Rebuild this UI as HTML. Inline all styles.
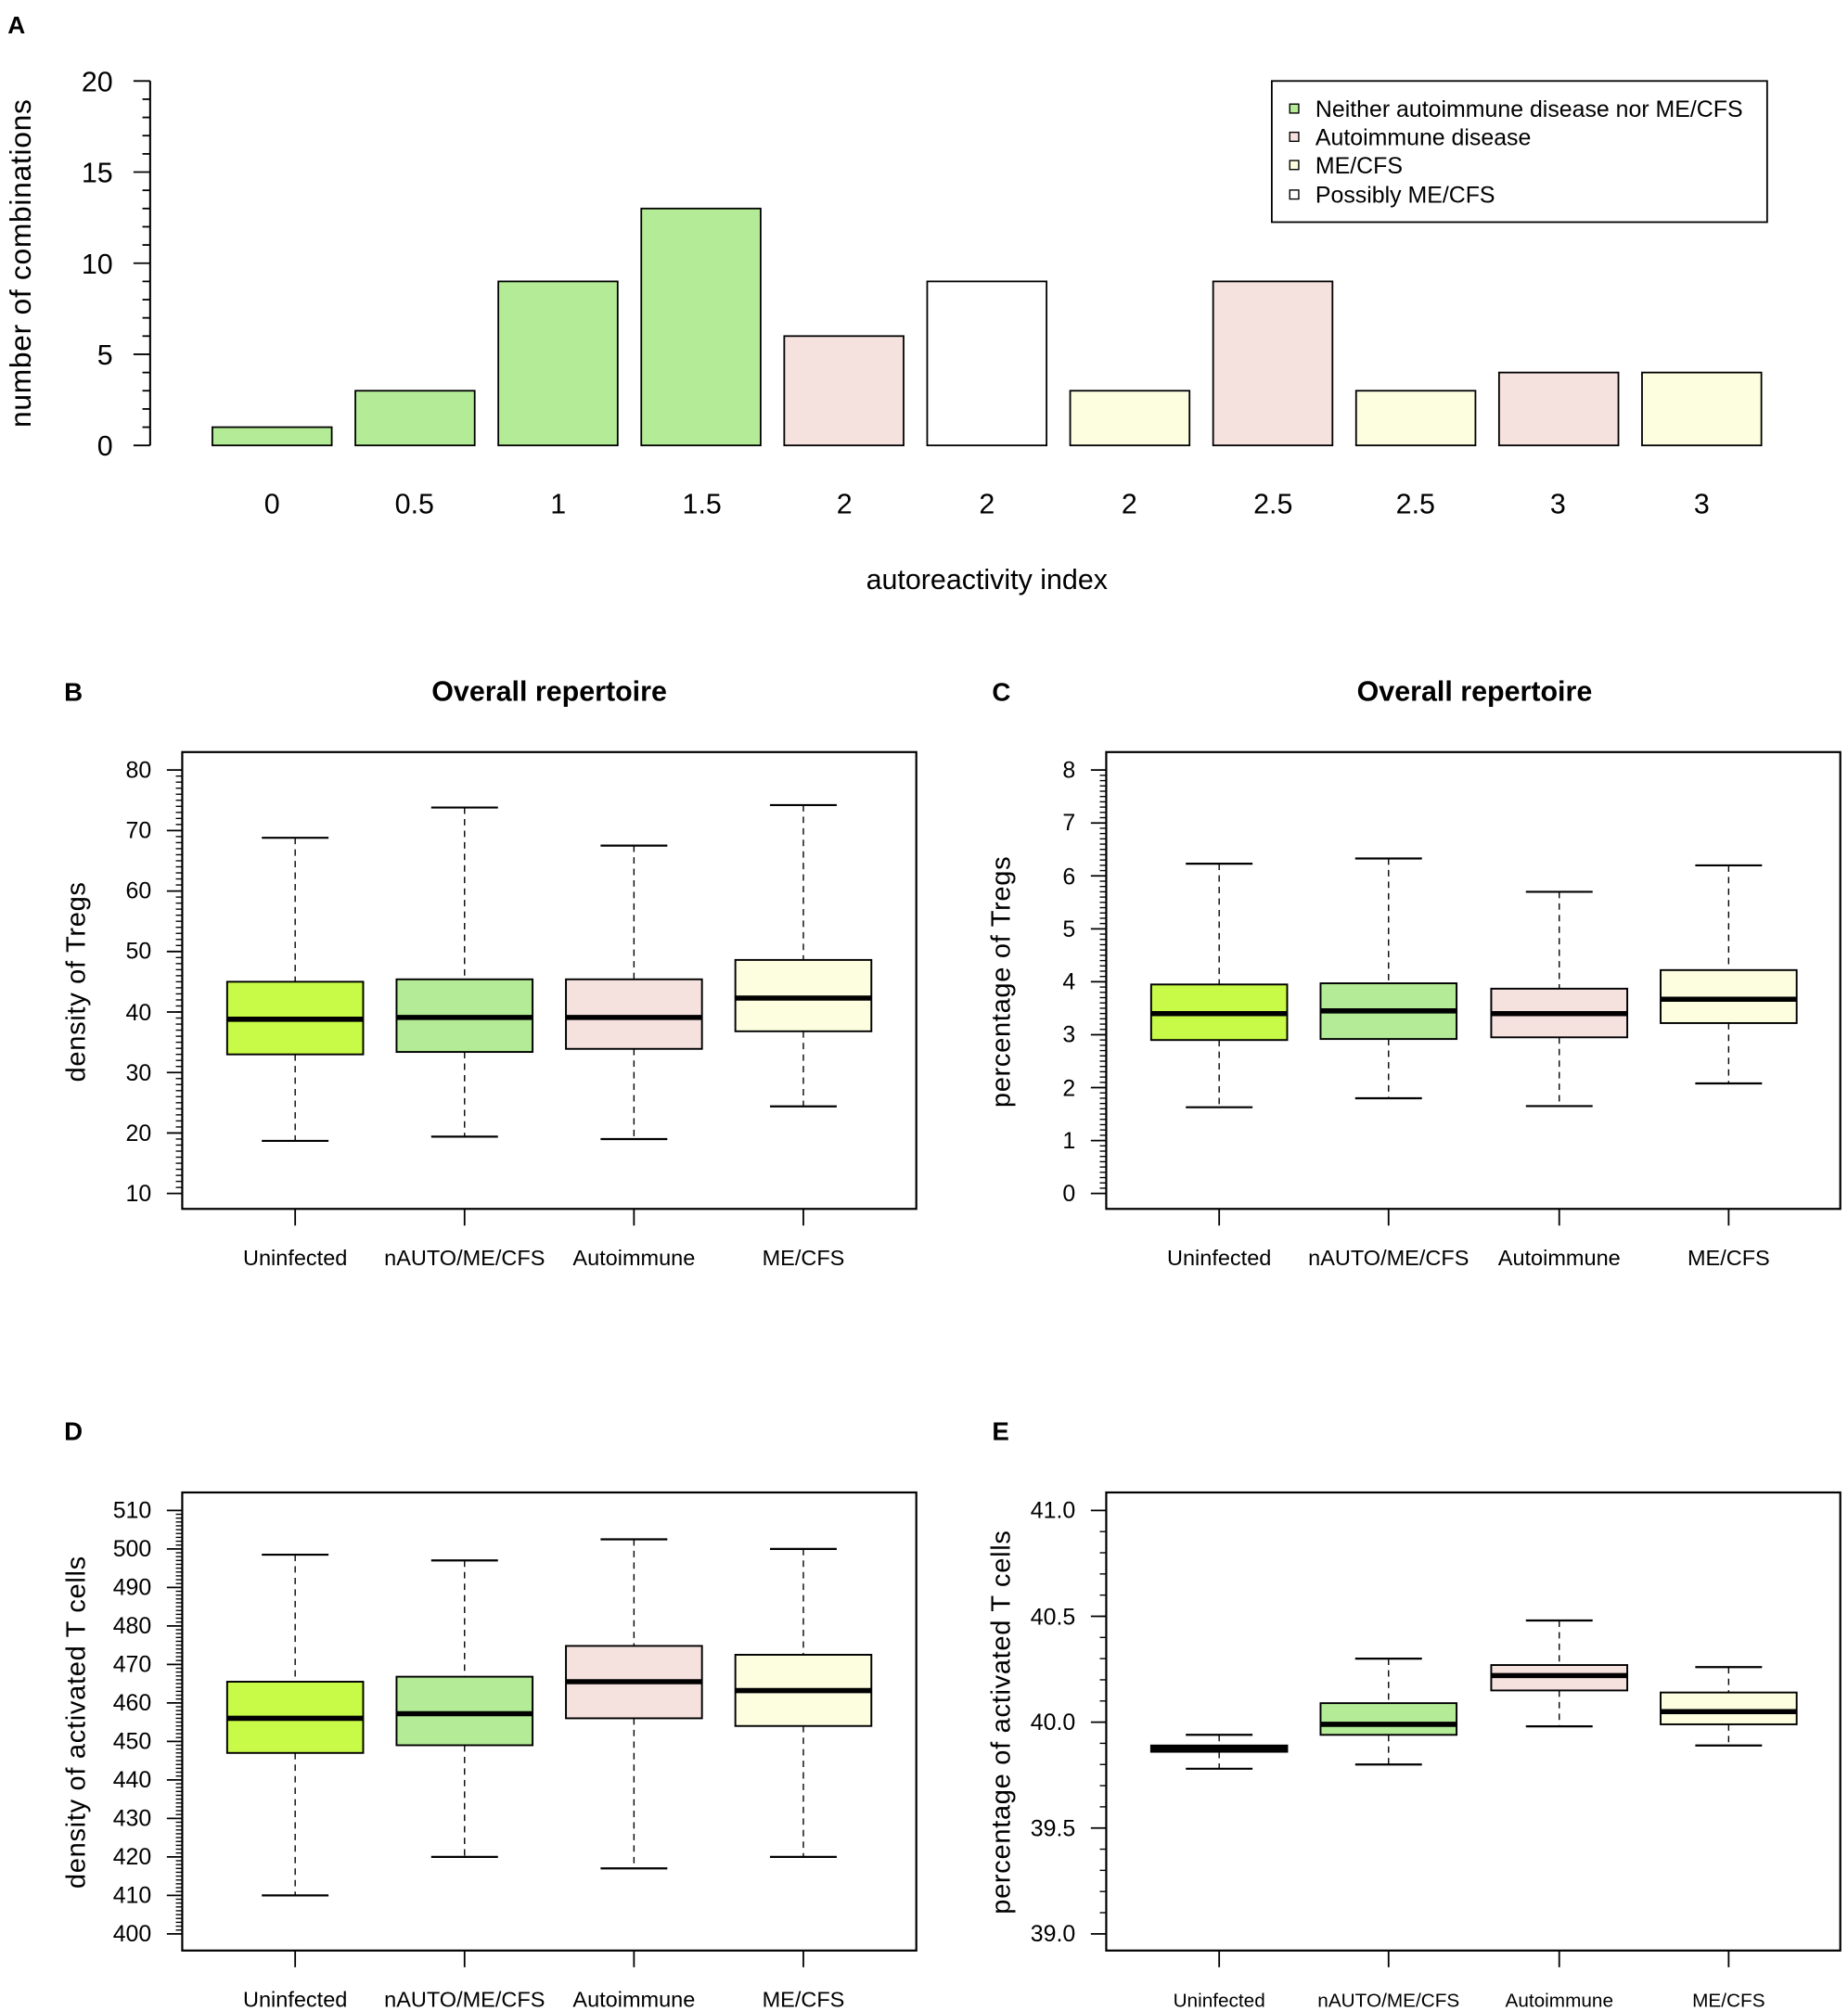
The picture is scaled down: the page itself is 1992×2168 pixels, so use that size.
<!DOCTYPE html>
<html><head><meta charset="utf-8"><style>
html,body{margin:0;padding:0;background:#fff}
svg{display:block}
text{font-family:"Liberation Sans",Arial,sans-serif;fill:#000}
</style></head><body>
<svg id="s" width="1992" height="2168" viewBox="0 0 1440 1567" xmlns="http://www.w3.org/2000/svg">
<rect width="1440" height="1567" fill="#fff"/>
<g id="shapes"></g>
<!-- Panel A text -->
<text x="6" y="26" font-size="19" font-weight="bold">A</text>
<g font-size="22" text-anchor="end">
<text x="88" y="71">20</text><text x="88" y="142">15</text><text x="88" y="213">10</text><text x="88" y="284">5</text><text x="88" y="355">0</text>
</g>
<text transform="translate(24,205) rotate(-90)" font-size="23" text-anchor="middle" letter-spacing="0.5">number of combinations</text>
<g font-size="22" text-anchor="middle">
<text x="212" y="400">0</text><text x="323" y="400">0.5</text><text x="435" y="400">1</text><text x="547" y="400">1.5</text><text x="658" y="400">2</text><text x="769" y="400">2</text><text x="880" y="400">2</text><text x="992" y="400">2.5</text><text x="1103" y="400">2.5</text><text x="1214" y="400">3</text><text x="1326" y="400">3</text>
</g>
<text x="769" y="459" font-size="22" text-anchor="middle">autoreactivity index</text>
<g font-size="18">
<text x="1025" y="91">Neither autoimmune disease nor ME/CFS</text>
<text x="1025" y="113">Autoimmune disease</text>
<text x="1025" y="135">ME/CFS</text>
<text x="1025" y="158">Possibly ME/CFS</text>
</g>
<!-- B / C -->
<text x="50" y="546" font-size="20" font-weight="bold">B</text>
<text x="428" y="546" font-size="22" font-weight="bold" text-anchor="middle">Overall repertoire</text>
<text x="773" y="546" font-size="20" font-weight="bold">C</text>
<text x="1149" y="546" font-size="22" font-weight="bold" text-anchor="middle">Overall repertoire</text>
<g font-size="18" text-anchor="end">
<text x="118" y="606">80</text><text x="118" y="653">70</text><text x="118" y="700">60</text><text x="118" y="747">50</text><text x="118" y="795">40</text><text x="118" y="842">30</text><text x="118" y="889">20</text><text x="118" y="936">10</text>
<text x="838" y="606">8</text><text x="838" y="647">7</text><text x="838" y="689">6</text><text x="838" y="730">5</text><text x="838" y="771">4</text><text x="838" y="812">3</text><text x="838" y="854">2</text><text x="838" y="895">1</text><text x="838" y="936">0</text>
</g>
<text transform="translate(66,765) rotate(-90)" font-size="21" text-anchor="middle" letter-spacing="0.5">density of Tregs</text>
<text transform="translate(787,765) rotate(-90)" font-size="21" text-anchor="middle" letter-spacing="0.5">percentage of Tregs</text>
<g font-size="17" text-anchor="middle">
<text x="230" y="986">Uninfected</text><text x="362" y="986">nAUTO/ME/CFS</text><text x="494" y="986">Autoimmune</text><text x="626" y="986">ME/CFS</text>
<text x="950" y="986">Uninfected</text><text x="1082" y="986">nAUTO/ME/CFS</text><text x="1215" y="986">Autoimmune</text><text x="1347" y="986">ME/CFS</text>
</g>
<!-- D / E -->
<text x="50" y="1122" font-size="20" font-weight="bold">D</text>
<text x="773" y="1122" font-size="20" font-weight="bold">E</text>
<g font-size="18" text-anchor="end">
<text x="118" y="1183">510</text><text x="118" y="1213">500</text><text x="118" y="1243">490</text><text x="118" y="1273">480</text><text x="118" y="1303">470</text><text x="118" y="1333">460</text><text x="118" y="1363">450</text><text x="118" y="1393">440</text><text x="118" y="1423">430</text><text x="118" y="1453">420</text><text x="118" y="1483">410</text><text x="118" y="1513">400</text>
<text x="838" y="1183">41.0</text><text x="838" y="1266">40.5</text><text x="838" y="1348">40.0</text><text x="838" y="1431">39.5</text><text x="838" y="1513">39.0</text>
</g>
<text transform="translate(66,1342) rotate(-90)" font-size="21" text-anchor="middle" letter-spacing="0.5">density of activated T cells</text>
<text transform="translate(787,1342) rotate(-90)" font-size="21" text-anchor="middle" letter-spacing="0.5">percentage of activated T cells</text>
<g font-size="17" text-anchor="middle">
<text x="230" y="1564">Uninfected</text><text x="362" y="1564">nAUTO/ME/CFS</text><text x="494" y="1564">Autoimmune</text><text x="626" y="1564">ME/CFS</text>
</g>
<g font-size="15" text-anchor="middle">
<text x="950" y="1564">Uninfected</text><text x="1082" y="1564">nAUTO/ME/CFS</text><text x="1215" y="1564">Autoimmune</text><text x="1347" y="1564">ME/CFS</text>
</g>
</svg>
<script>
var g=document.getElementById('shapes'),NS='http://www.w3.org/2000/svg';
function el(t,a){var e=document.createElementNS(NS,t);for(var k in a)e.setAttribute(k,a[k]);g.appendChild(e);return e;}
function ln(x1,y1,x2,y2,w,d){var a={x1:x1,y1:y1,x2:x2,y2:y2,stroke:'#000','stroke-width':w||1.3};if(d)a['stroke-dasharray']=d;el('line',a);}
var GR='#b3eb96',PK='#f5e1de',YL='#fdfde0',WH='#ffffff',UN='#c8fb48';
// Panel A
ln(117,63,117,347,1.5);
for(var v=0;v<=20;v++){var y=347-v*14.2;ln(v%5==0?104:111,y,117,y,1.3);}
var h=[1,3,9,13,6,9,3,9,3,4,4],c=[GR,GR,GR,GR,PK,WH,YL,PK,YL,PK,YL];
for(var i=0;i<11;i++){var cx=212+i*111.4,t=347-h[i]*14.2;el('rect',{x:cx-46.5,y:t,width:93,height:h[i]*14.2,fill:c[i],stroke:'#000','stroke-width':1.3});}
el('rect',{x:991,y:63,width:386,height:110,fill:'none',stroke:'#000','stroke-width':1.3});
[[85,GR],[107,PK],[129,YL],[152,WH]].forEach(function(p){el('rect',{x:1005,y:p[0]-4,width:7,height:7,fill:p[1],stroke:'#000','stroke-width':1});});
// Box panels
function panel(x0,y0,x1,y1,cats,ylab,minor,data,cols){
 el('rect',{x:x0,y:y0,width:x1-x0,height:y1-y0,fill:'none',stroke:'#000','stroke-width':1.6});
 ylab.forEach(function(y){ln(x0-12,y,x0,y,1.3);});
 minor.forEach(function(y){ln(x0-5,y,x0,y,1);});
 ln(x0,ylab[0],x0,ylab[ylab.length-1],1.3);
 cats.forEach(function(cx,i){ln(cx,y1,cx,y1+13,1.3);var d=data[i];
  ln(cx,d[0],cx,d[1],1,'5,4');ln(cx,d[3],cx,d[4],1,'5,4');
  ln(cx-26,d[0],cx+26,d[0],1.6);ln(cx-26,d[4],cx+26,d[4],1.6);
  el('rect',{x:cx-53,y:d[1],width:106,height:d[3]-d[1],fill:cols[i],stroke:'#000','stroke-width':1.4});
  ln(cx-53,d[2],cx+53,d[2],4);});
}
function lin(a,b,n){var r=[];for(var i=0;i<=n;i++)r.push(a+(b-a)*i/n);return r;}
var cols=[UN,GR,PK,YL];
panel(142,586,714,942,[230,362,494,626],lin(600,930,7),lin(600,930,70),
 [[652.8,765,794.2,821.6,889],[629.2,763.1,792.8,819.7,885.7],[658.9,763.1,792.8,817.3,887.6],[627.3,748,777.7,803.6,862.1]],cols);
panel(862,586,1434,942,[950,1082,1215,1347],lin(600,930,8),lin(600,930,80),
 [[673,767.1,789.8,810.4,862.8],[668.9,766.2,787.7,809.6,855.8],[694.9,770.4,789.8,808.3,861.9],[674.3,755.9,778.6,797.2,844.2]],cols);
panel(142,1163,714,1520,[230,362,494,626],lin(1177,1507,11),lin(1177,1507,110),
 [[1211.5,1310.5,1339,1366,1477],[1216,1306.6,1335.4,1360,1447],[1199.5,1282.6,1310.5,1339,1456],[1207,1289.5,1317.4,1345,1447]],cols);
panel(862,1163,1434,1520,[950,1082,1215,1347],lin(1177,1507,4),lin(1177,1507,20),
 [[1351.9,1360.2,1362.6,1365.1,1378.3],[1292.5,1327.2,1343.7,1351.9,1375],[1262.8,1297.5,1305.7,1317.3,1345.3],[1299.1,1318.9,1333.8,1343.7,1360.2]],cols);
</script>
</body></html>
